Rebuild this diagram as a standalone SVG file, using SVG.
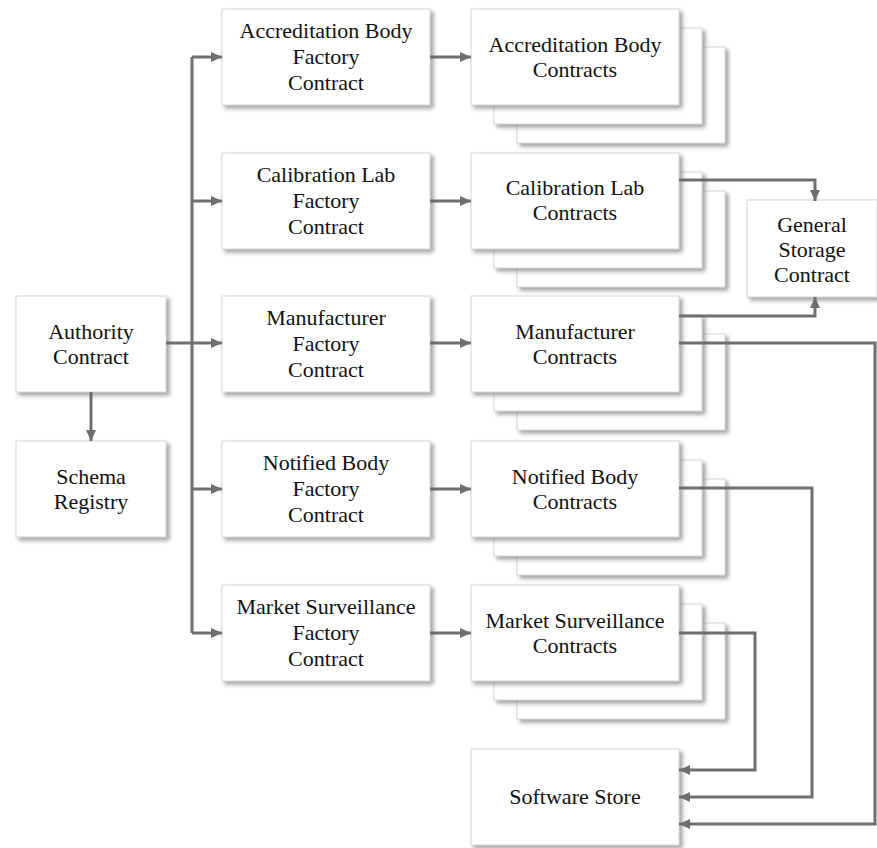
<svg xmlns="http://www.w3.org/2000/svg" width="877" height="848" viewBox="0 0 877 848">
  <style>
    .box { fill: #ffffff; stroke: #d6d6d6; stroke-width: 1; filter: url(#shadow); }
    .lbl { font-family: "Liberation Serif", "Times New Roman", serif; font-size: 22px; fill: #111111; text-anchor: middle; }
    .wire { fill: none; stroke: #6e6e6e; stroke-width: 3; }
    .arrow { fill: none; stroke: #6e6e6e; stroke-width: 3; marker-end: url(#head); }
  </style>
  <defs>
    <filter id="shadow" x="-10%" y="-10%" width="130%" height="140%">
      <feDropShadow dx="3" dy="3" stdDeviation="2" flood-color="#777777" flood-opacity="0.7"/>
    </filter>
    <marker id="head" markerUnits="userSpaceOnUse" markerWidth="11" markerHeight="10" refX="11" refY="5" orient="auto">
      <path d="M0,0 L11,5 L0,10 z" fill="#6e6e6e"/>
    </marker>
  </defs>
  <rect width="877" height="848" fill="#ffffff"/>

  <!-- authority and schema -->
  <g id="authority">
    <rect class="box" x="16" y="296" width="150" height="96"/>
    <text class="lbl" x="91" y="339">Authority</text>
    <text class="lbl" x="91" y="364">Contract</text>
  </g>
  <g id="schema-registry">
    <rect class="box" x="16" y="441" width="150" height="96"/>
    <text class="lbl" x="91" y="484">Schema</text>
    <text class="lbl" x="91" y="509">Registry</text>
  </g>

  <!-- factory contracts -->
  <g id="accreditation-factory">
    <rect class="box" x="222" y="9" width="208" height="96"/>
    <text class="lbl" x="326" y="38">Accreditation Body</text>
    <text class="lbl" x="326" y="64">Factory</text>
    <text class="lbl" x="326" y="90">Contract</text>
  </g>
  <g id="calibration-factory">
    <rect class="box" x="222" y="153" width="208" height="96"/>
    <text class="lbl" x="326" y="182">Calibration Lab</text>
    <text class="lbl" x="326" y="208">Factory</text>
    <text class="lbl" x="326" y="234">Contract</text>
  </g>
  <g id="manufacturer-factory">
    <rect class="box" x="222" y="296" width="208" height="96"/>
    <text class="lbl" x="326" y="325">Manufacturer</text>
    <text class="lbl" x="326" y="351">Factory</text>
    <text class="lbl" x="326" y="377">Contract</text>
  </g>
  <g id="notified-factory">
    <rect class="box" x="222" y="441" width="208" height="96"/>
    <text class="lbl" x="326" y="470">Notified Body</text>
    <text class="lbl" x="326" y="496">Factory</text>
    <text class="lbl" x="326" y="522">Contract</text>
  </g>
  <g id="market-factory">
    <rect class="box" x="222" y="585" width="208" height="96"/>
    <text class="lbl" x="326" y="614">Market Surveillance</text>
    <text class="lbl" x="326" y="640">Factory</text>
    <text class="lbl" x="326" y="666">Contract</text>
  </g>

  <!-- contract instance stacks -->
  <g id="accreditation-contracts">
    <rect class="box" x="517" y="47" width="208" height="96"/>
    <rect class="box" x="494" y="28" width="208" height="96"/>
    <rect class="box" x="471" y="9" width="208" height="96"/>
    <text class="lbl" x="575" y="52">Accreditation Body</text>
    <text class="lbl" x="575" y="77">Contracts</text>
  </g>
  <g id="calibration-contracts">
    <rect class="box" x="517" y="191" width="208" height="96"/>
    <rect class="box" x="494" y="172" width="208" height="96"/>
    <rect class="box" x="471" y="153" width="208" height="96"/>
    <text class="lbl" x="575" y="195">Calibration Lab</text>
    <text class="lbl" x="575" y="220">Contracts</text>
  </g>
  <g id="manufacturer-contracts">
    <rect class="box" x="517" y="334" width="208" height="96"/>
    <rect class="box" x="494" y="315" width="208" height="96"/>
    <rect class="box" x="471" y="296" width="208" height="96"/>
    <text class="lbl" x="575" y="339">Manufacturer</text>
    <text class="lbl" x="575" y="364">Contracts</text>
  </g>
  <g id="notified-contracts">
    <rect class="box" x="517" y="479" width="208" height="96"/>
    <rect class="box" x="494" y="460" width="208" height="96"/>
    <rect class="box" x="471" y="441" width="208" height="96"/>
    <text class="lbl" x="575" y="484">Notified Body</text>
    <text class="lbl" x="575" y="509">Contracts</text>
  </g>
  <g id="market-contracts">
    <rect class="box" x="517" y="623" width="208" height="96"/>
    <rect class="box" x="494" y="604" width="208" height="96"/>
    <rect class="box" x="471" y="585" width="208" height="96"/>
    <text class="lbl" x="575" y="628">Market Surveillance</text>
    <text class="lbl" x="575" y="653">Contracts</text>
  </g>

  <!-- shared services -->
  <g id="general-storage">
    <rect class="box" x="747" y="200" width="130" height="97"/>
    <text class="lbl" x="812" y="232">General</text>
    <text class="lbl" x="812" y="257">Storage</text>
    <text class="lbl" x="812" y="282">Contract</text>
  </g>
  <g id="software-store">
    <rect class="box" x="471" y="749" width="208" height="96"/>
    <text class="lbl" x="575" y="804">Software Store</text>
  </g>

  <!-- connectors, drawn over the stacked boxes -->
  <g id="connectors">
    <path class="wire" d="M192,57 V633"/>
    <path class="wire" d="M166,343 H192"/>
    <path class="arrow" d="M192,57 H222"/>
    <path class="arrow" d="M192,201 H222"/>
    <path class="arrow" d="M192,343 H222"/>
    <path class="arrow" d="M192,489 H222"/>
    <path class="arrow" d="M192,633 H222"/>
    <path class="arrow" d="M91,392 V441"/>
    <path class="arrow" d="M430,57 H471"/>
    <path class="arrow" d="M430,201 H471"/>
    <path class="arrow" d="M430,343 H471"/>
    <path class="arrow" d="M430,489 H471"/>
    <path class="arrow" d="M430,633 H471"/>
    <path class="arrow" d="M679,180 H815 V201"/>
    <path class="arrow" d="M679,316 H815 V297"/>
    <path class="arrow" d="M679,343 H875 V824 H679"/>
    <path class="arrow" d="M679,488 H812 V797 H679"/>
    <path class="arrow" d="M679,633 H755 V770 H679"/>
  </g>
</svg>
